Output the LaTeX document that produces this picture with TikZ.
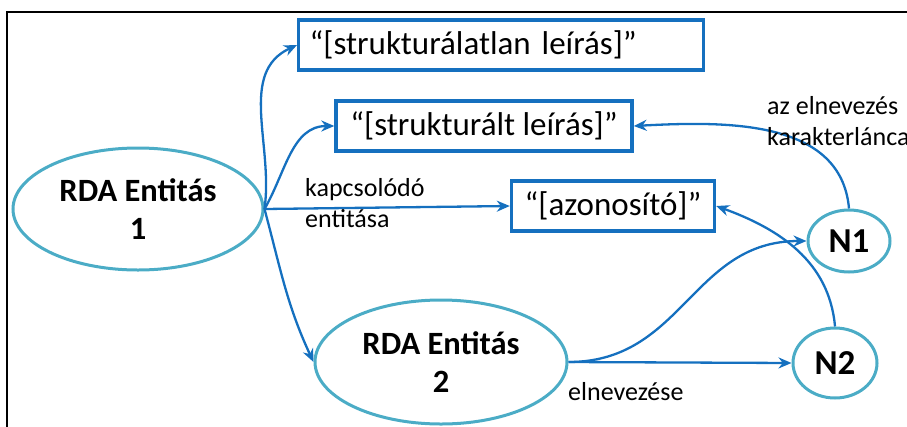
\documentclass[tikz,border=0pt]{standalone}
\usepackage{fontspec}
\setmainfont{Carlito}
\usetikzlibrary{shapes.geometric,arrows.meta}
\definecolor{linkblue}{HTML}{1570BF}
\definecolor{entteal}{HTML}{4BACC6}
\begin{document}
\begin{tikzpicture}[x=1pt,y=-1pt]
    \useasboundingbox (0,0) rectangle (907,426);
    \begin{scope}
        \tikzset{entity/.style={draw=entteal, line width=3pt, ellipse, align=center, font=\fontsize{32.5}{38}\selectfont\bfseries},
                 valbox/.style={draw=linkblue, line width=3.4pt, rectangle, minimum height=50pt, font=\fontsize{33}{36}\selectfont},
                 link/.style={draw=linkblue, line width=2.3pt, -{Stealth[length=13pt,width=11pt]}},
                 lbl/.style={font=\fontsize{26}{31}\selectfont, align=left, inner sep=0pt}}
        % Draw the frame
        \draw[line width=2pt] (7,440) -- (7,12) -- (920,12);

        % Draw the entities and the nodes
        \node [entity, minimum width=250pt, minimum height=122pt] (E1) at (138,209) {RDA Entitás\\1};
        \node [entity, minimum width=252pt, minimum height=124pt] (E2) at (441,362) {RDA Entitás\\2};
        \node [entity, minimum width=82pt, minimum height=62pt, inner sep=0pt, font=\fontsize{35}{38}\selectfont\bfseries] (N1) at (849,241) {N1};
        \node [entity, minimum width=84pt, minimum height=70pt, inner sep=0pt, font=\fontsize{35}{38}\selectfont\bfseries] (N2) at (835,363) {N2};

        % Draw the value boxes
        \node [valbox, anchor=west, inner xsep=11pt, text width=383pt, align=left] (V1) at (297,45) {“[strukturálatlan leírás]”};
        \node [valbox, minimum width=296pt] (V2) at (484,126) {“[strukturált leírás]”};
        \node [valbox, minimum width=203pt] (V3) at (613,206) {“[azonosító]”};

        % Connect them
        \draw [link] (E1.east) to[out=82, in=205] (V1.west);
        \draw [link] (E1.east) to[out=60, in=180] (V2.west);
        \draw [link] (E1.east) -- (V3.west);
        \draw [link] (E1.east) to[out=-75, in=115] (E2.west);
        \draw [link] (E2.east) -- (N2.west);
        \draw [link] (E2.east) to[out=0, in=180, looseness=1.1] (N1.west);
        \draw [link] (N1.north) to[out=95, in=3] (V2.east);
        \draw [link] (N2.north) to[out=95, in=-20] (V3.east);

        % Label the links
        \node [lbl, anchor=west] at (305,203) {kapcsolódó\\entitása};
        \node [lbl, anchor=west] at (568,392) {elnevezése};
        \node [lbl, anchor=west] at (767,121) {az elnevezés\\karakterlánca};
    \end{scope}
\end{tikzpicture}
\end{document}
